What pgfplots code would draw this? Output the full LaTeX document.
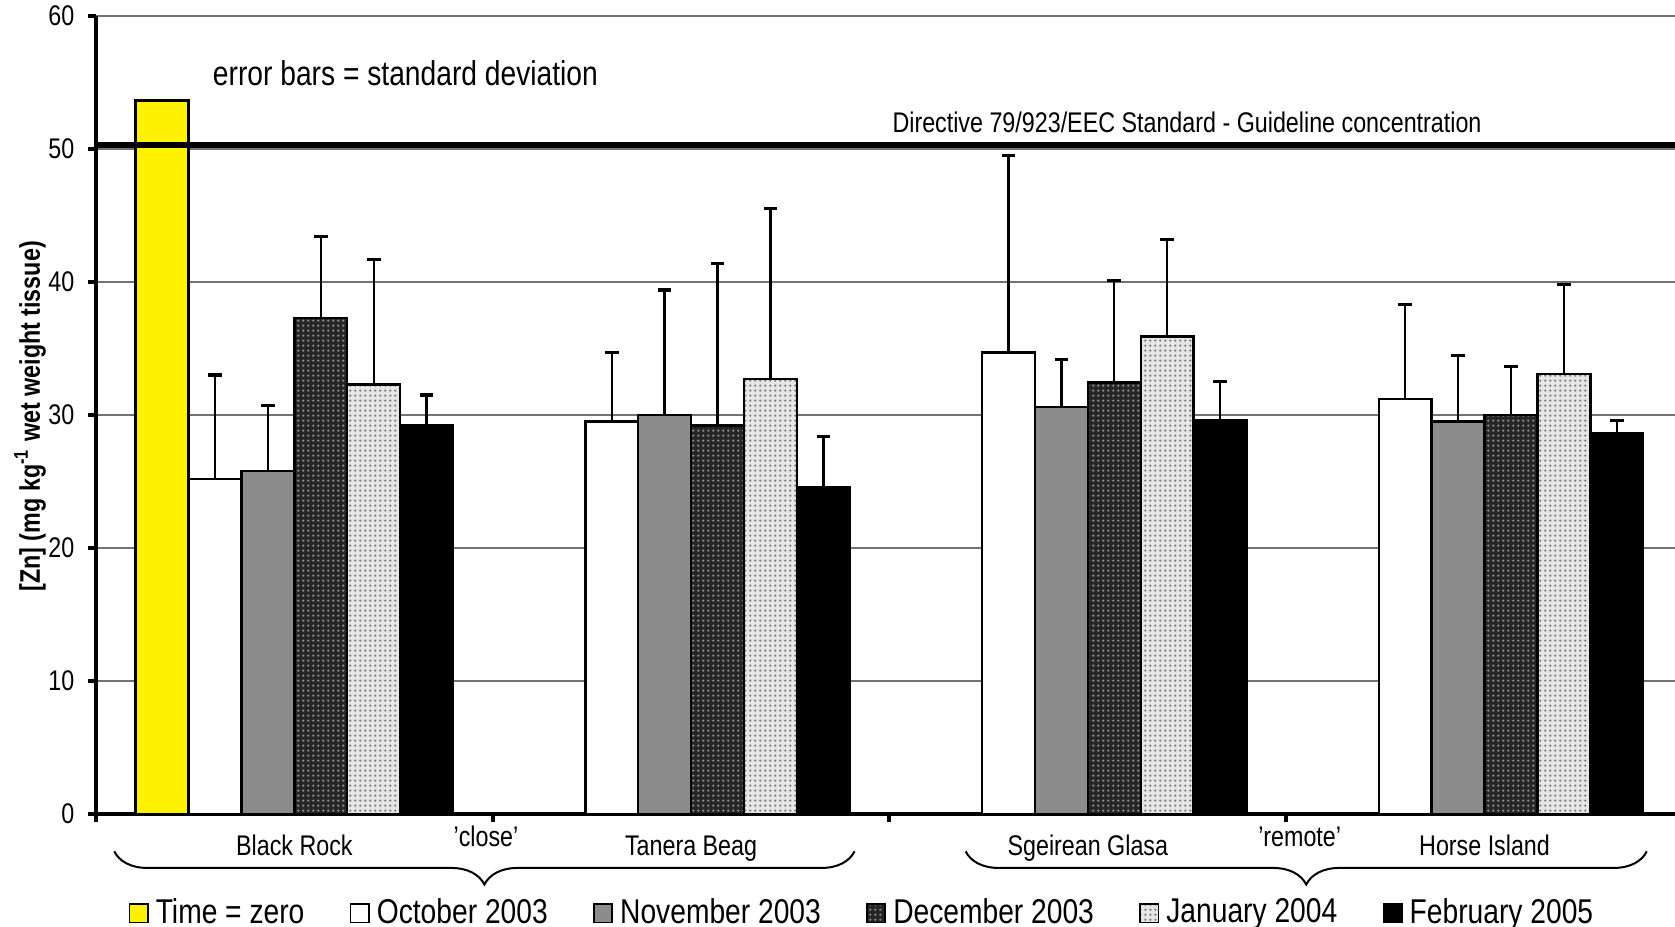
\documentclass[border=0pt]{standalone}
\usepackage{fontspec}
\setmainfont{Liberation Sans}[FakeStretch=0.82]
\usepackage{pgfplots}
\usepackage{pgfplotstable}
\pgfplotsset{compat=1.18}
\usetikzlibrary{decorations.pathreplacing,patterns.meta}

\definecolor{novgray}{HTML}{8C8C8C}
\definecolor{decgray}{HTML}{262626}
\definecolor{jangray}{HTML}{E6E6E6}

\tikzdeclarepattern{
  name=fdots,
  type=uncolored,
  bottom left={(0pt,0pt)},
  top right={(1.3pt,1.3pt)},
  tile size={(1.3pt,1.3pt)},
  code={\fill (0.65pt,0.65pt) circle (0.36pt);}
}

% x = group centre + offset; groups: Black Rock, Tanera Beag, Sgeirean Glasa, Horse Island
\pgfplotstableread{
x y e
0.1667 53.65 0
}\tzero
\pgfplotstableread{
x y e
0.3000 25.2 7.8
1.3000 29.5 5.2
2.3000 34.7 14.8
3.3000 31.2 7.1
}\oct
\pgfplotstableread{
x y e
0.4333 25.8 4.9
1.4333 30.0 9.4
2.4333 30.6 3.6
3.4333 29.5 5.0
}\nov
\pgfplotstableread{
x y e
0.5667 37.3 6.15
1.5667 29.2 12.2
2.5667 32.45 7.65
3.5667 30.0 3.65
}\dec
\pgfplotstableread{
x y e
0.7000 32.3 9.4
1.7000 32.7 12.8
2.7000 35.9 7.3
3.7000 33.1 6.7
}\jan
\pgfplotstableread{
x y e
0.8333 29.2 2.3
1.8333 24.6 3.8
2.8333 29.6 2.9
3.8333 28.6 1.0
}\feb

\newcommand{\smallf}{\fontsize{7.1}{8.5}\selectfont}
\newcommand{\largef}{\fontsize{8.6}{10}\selectfont}

\begin{document}
\begin{tikzpicture}
\path[use as bounding box] (-24pt,-28.25pt) rectangle (394.75pt,203.5pt);
\begin{axis}[
  scale only axis, width=394.75pt, height=199.5pt,
  xmin=0, xmax=3.98, ymin=0, ymax=60,
  axis x line*=bottom, axis y line*=left,
  axis line style={line width=1pt},
  ytick={0,10,...,60},
  xtick={0,1,2,3,4}, xticklabels={},
  tick align=outside, major tick length=1.9pt,
  tick style={black, line width=1pt},
  ymajorgrids, major grid style={black!55, line width=0.4pt},
  clip=false,
  /pgf/number format/assume math mode=true,
  ticklabel style={font=\smallf},
  legend columns=6,
  legend style={at={(axis cs:1.928,-7.52)}, anchor=center, draw=none, fill=none,
    font=\largef, inner sep=0pt,
    /tikz/every odd column/.style={column sep=1.8pt},
    /tikz/every even column/.style={column sep=11.3pt},
    nodes={inner sep=0pt}},
  legend image code/.code={\draw[#1, draw=black, line width=0.4pt] (0pt,-2.1pt) rectangle (4.6pt,2.5pt);},
  every axis plot/.append style={draw=black, line width=0.6pt},
  ebar/.style={error bars/.cd, y dir=plus, y explicit,
    error bar style={line width=0.6pt, black},
    error mark options={rotate=90, mark size=1.7pt, line width=0.8pt, black}},
]
\addplot[ybar, bar width=0.1333, bar shift=0pt, fill=yellow] table[x=x,y=y] {\tzero};
\addlegendentry{Time = zero}
\addplot[ybar, bar width=0.1333, bar shift=0pt, fill=white, ebar]
  table[x=x,y=y,y error=e] {\oct};
\addlegendentry{October 2003}
\addplot[ybar, bar width=0.1333, bar shift=0pt, fill=novgray, ebar]
  table[x=x,y=y,y error=e] {\nov};
\addlegendentry{November 2003}
\addplot[ybar, bar width=0.1333, bar shift=0pt, fill=decgray,
  postaction={pattern=fdots, pattern color=black!45}, ebar]
  table[x=x,y=y,y error=e] {\dec};
\addlegendentry{December 2003}
\addplot[ybar, bar width=0.1333, bar shift=0pt, fill=jangray,
  postaction={pattern=fdots, pattern color=black!50}, ebar]
  table[x=x,y=y,y error=e] {\jan};
\addlegendentry{January 2004}
\addplot[ybar, bar width=0.1333, bar shift=0pt, fill=black, ebar]
  table[x=x,y=y,y error=e] {\feb};
\addlegendentry{February 2005}

\addplot[line width=1.3pt, black, forget plot] coordinates {(0,50.3) (3.98,50.3)};

\node[anchor=base, font=\largef] at (axis cs:0.78,54.8) {error bars = standard deviation};
\node[anchor=base, font=\smallf] at (axis cs:2.75,51.24) {Directive 79/923/EEC Standard - Guideline concentration};

\node[anchor=base, font=\smallf] at (axis cs:0.5,-3.128) {Black Rock};
\node[anchor=base, font=\smallf] at (axis cs:1.5,-3.128) {Tanera Beag};
\node[anchor=base, font=\smallf] at (axis cs:2.5,-3.128) {Sgeirean Glasa};
\node[anchor=base, font=\smallf] at (axis cs:3.5,-3.128) {Horse Island};
\node[anchor=base, font=\smallf] at (axis cs:0.983,-2.48) {'close'};
\node[anchor=base, font=\smallf] at (axis cs:3.034,-2.48) {'remote'};

\draw[decorate, decoration={brace, mirror, amplitude=8.3pt}, line width=0.5pt]
  (axis cs:0.046,-2.81) -- (axis cs:1.912,-2.81);
\draw[decorate, decoration={brace, mirror, amplitude=8.3pt}, line width=0.5pt]
  (axis cs:2.192,-2.81) -- (axis cs:3.909,-2.81);

\node[rotate=90, font=\bfseries\smallf] at (axis cs:-0.1664,29.9)
  {[Zn] (mg kg\textsuperscript{-1} wet weight tissue)};
\end{axis}
\end{tikzpicture}
\end{document}
